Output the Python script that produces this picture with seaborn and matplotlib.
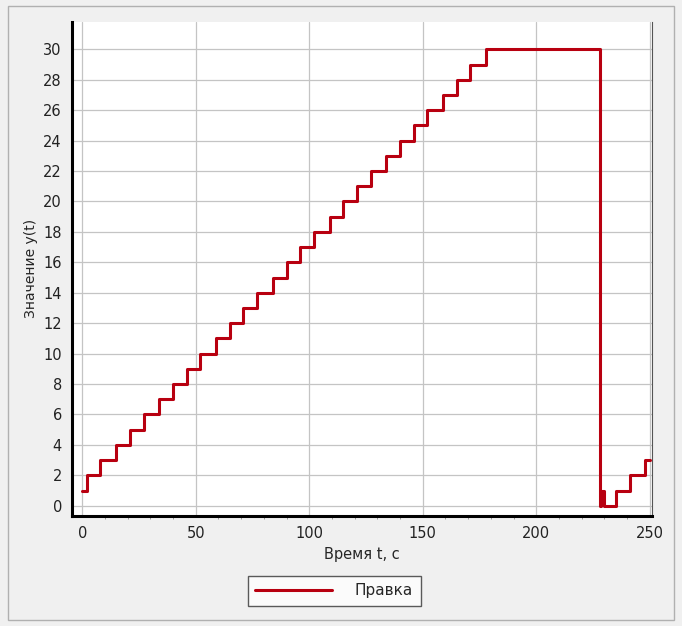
import matplotlib
matplotlib.use('Agg')
import matplotlib.pyplot as plt
import pandas as pd
import seaborn as sns
from matplotlib.patches import Rectangle

# Step change times (s) and values
t = [0, 2, 8, 15, 21, 27, 34, 40, 46, 52, 59, 65, 71, 77, 84, 90, 96, 102, 109,
     115, 121, 127, 134, 140, 146, 152, 159, 165, 171, 178,
     228, 228.5, 229.7, 235, 241.5, 248, 250]
y = [1, 2, 3, 4, 5, 6, 7, 8, 9, 10, 11, 12, 13, 14, 15, 16, 17, 18, 19,
     20, 21, 22, 23, 24, 25, 26, 27, 28, 29, 30,
     0, 1, 0, 1, 2, 3, 3]

df = pd.DataFrame({'t': t, 'y': y})

sns.set_style('white')
plt.rcParams['font.family'] = ['DejaVu Sans']

fig = plt.figure(figsize=(6.82, 6.26), dpi=100, facecolor='#f0f0f0')
# thin outer border like the window frame
fig.patches.append(Rectangle((0.012, 0.01), 0.976, 0.98, transform=fig.transFigure,
                             fill=False, edgecolor='#b0b0b0', linewidth=1))
ax = fig.add_axes([0.106, 0.176, 0.85, 0.789])
ax.set_facecolor('white')

sns.lineplot(data=df, x='t', y='y', drawstyle='steps-post', color='#b80010',
             linewidth=2.2, ax=ax, label='Правка', legend=False)

ax.set_xlim(-4.4, 251)
ax.set_ylim(-0.66, 31.8)
ax.set_xticks(range(0, 251, 50))
ax.set_xticks(range(0, 251, 10), minor=True)
ax.set_yticks(range(0, 31, 2))
ax.grid(True, color='#c4c4c4', linewidth=0.9)
ax.tick_params(axis='both', which='major', length=4, color='#888888', labelsize=10.5, labelcolor='#222222')
ax.tick_params(axis='x', which='minor', length=2.5, color='#888888', bottom=True)
for s in ['left', 'bottom']:
    ax.spines[s].set_linewidth(2.2)
    ax.spines[s].set_color('black')
ax.spines['right'].set_linewidth(0.8)
ax.spines['right'].set_color('#555555')
ax.spines['top'].set_visible(False)

ax.set_xlabel('Время t, с', fontsize=10.5)
ax.set_ylabel('Значение y(t)', fontsize=10)

fig.legend(loc='center', bbox_to_anchor=(0.49, 0.056), frameon=True, fancybox=False,
           edgecolor='#333333', fontsize=11, handlelength=5, borderpad=0.5,
           handletextpad=1.5, facecolor='white')

fig.savefig('out.png', dpi=100, facecolor=fig.get_facecolor())
